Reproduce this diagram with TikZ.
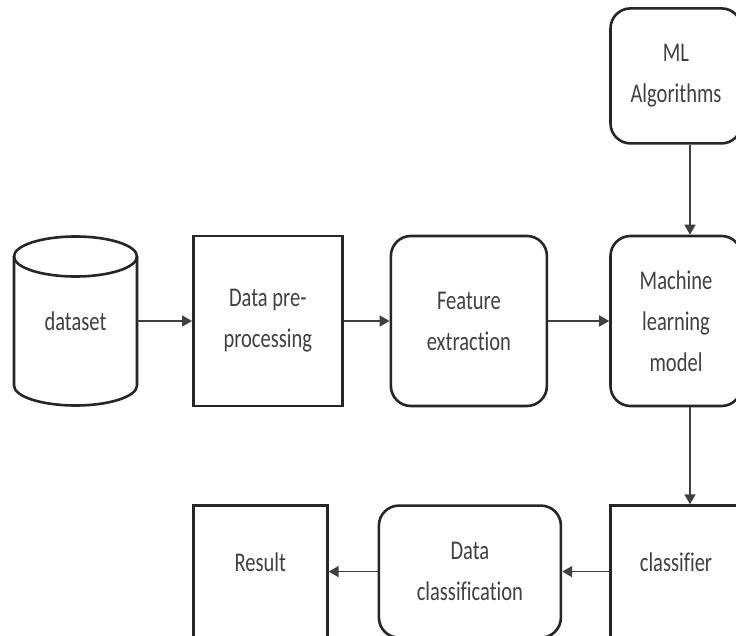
\documentclass[tikz,border=0pt]{standalone}
\usepackage{fontspec}
\setmainfont{Carlito}[FakeStretch=0.76, Ligatures=NoCommon]
\usetikzlibrary{arrows.meta, positioning}

\begin{document}
\begin{tikzpicture}[
   box/.style = {draw=black!85, line width=2.6pt, align=center, text=black!75,
                 font=\fontsize{27}{41}\selectfont},
   sharpbox/.style = {box},
   roundbox/.style = {box, rounded corners=20pt},
   flow/.style = {draw=black!75, line width=1.5pt, -{Triangle[length=10pt, width=11pt]}}]
   \useasboundingbox[fill=white] (0,0) rectangle (736pt,-636pt);

   % cylinder drawn round an empty frame
   \node[box, draw=none, inner sep=0pt, outer sep=0pt,
         minimum width=123pt, minimum height=169pt] (dataset) at (75.5pt,-321pt) {dataset};
   \draw[draw=black!85, line width=2.6pt] ([yshift=-20pt]dataset.north) ellipse [x radius=61.5pt, y radius=20pt];
   \draw[draw=black!85, line width=2.6pt] ([yshift=-20pt]dataset.north west) -- ([yshift=20pt]dataset.south west)
        arc[start angle=180, end angle=360, x radius=61.5pt, y radius=20pt] -- ([yshift=-20pt]dataset.north east);

   \node[sharpbox, minimum width=149pt, minimum height=170pt, right=55pt of dataset] (prep) {Data pre-\\processing};
   \node[roundbox, minimum width=156pt, minimum height=170pt, right=46pt of prep] (feat) {Feature\\extraction};
   \node[roundbox, minimum width=131pt, minimum height=170pt, right=61pt of feat] (model) {Machine\\learning\\model};
   \node[roundbox, minimum width=131pt, minimum height=135pt, above=90pt of model] (algo) {ML\\Algorithms};
   \node[sharpbox, minimum width=131pt, minimum height=132pt, below=97pt of model] (clf) {\raisebox{19pt}{classifier}};
   \node[roundbox, minimum width=182pt, minimum height=132pt, left=47pt of clf] (dclass) {Data\\classification};
   \node[sharpbox, minimum width=134pt, minimum height=132pt, left=49pt of dclass] (result) {\raisebox{19pt}{Result}};

   \draw[flow] (dataset) -- (prep);
   \draw[flow] (prep) -- (feat);
   \draw[flow] (feat) -- (model);
   \draw[flow] ([xshift=14pt]algo.south) -- ([xshift=14pt]model.north);
   \draw[flow] ([xshift=14pt]model.south) -- ([xshift=14pt]clf.north);
   \draw[flow] (clf) -- (dclass);
   \draw[flow] (dclass) -- (result);
\end{tikzpicture}
\end{document}
